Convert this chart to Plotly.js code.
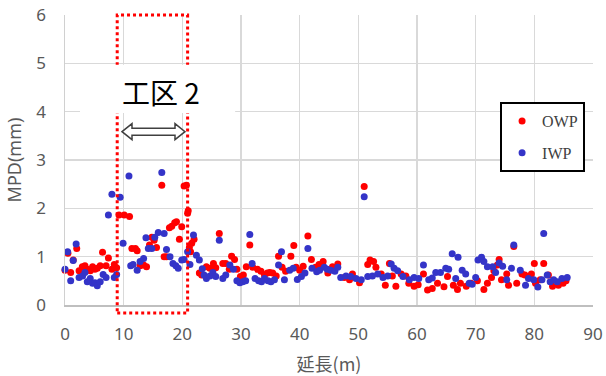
<!DOCTYPE html>
<html><head><meta charset="utf-8">
<script src="https://cdn.plot.ly/plotly-3.0.1.min.js"></script>
<style>html,body{margin:0;padding:0;background:#fff}#chart{width:606px;height:376px}</style>
</head><body><div id="chart"></div>
<script>
// OWP (red) series
const owpX = [0.0,0.5,0.97,1.4,2.0,2.4,2.95,3.4,3.8,4.3,4.7,5.1,5.5,6.0,6.4,7.0,7.4,8.0,8.4,8.8,9.2,10.1,11.0,11.4,12.0,12.3,12.8,13.4,13.9,14.4,14.8,15.2,15.6,16.5,16.9,17.3,17.8,18.2,18.7,19.0,19.5,19.9,20.3,20.7,20.9,21.0,21.2,21.4,21.6,22.0,22.9,23.3,24.1,24.7,25.3,25.7,26.3,26.9,27.4,28.0,28.4,28.9,29.3,29.9,30.4,30.9,31.5,32.0,32.8,33.4,34.0,34.5,34.9,35.4,36.0,36.4,37.0,37.6,38.5,39.0,39.4,40.0,40.6,41.4,42.0,42.7,43.3,44.0,44.8,45.6,46.5,47.6,48.5,49.0,50.2,51.0,51.6,52.0,52.6,53.0,53.9,54.6,55.3,55.8,56.4,57.3,58.1,58.6,59.5,60.2,61.1,61.8,62.6,63.5,64.6,65.2,66.2,66.9,67.4,68.4,69.2,70.3,71.4,72.0,72.7,73.1,73.7,74.0,74.4,75.3,75.6,76.5,77.0,77.9,78.4,79.5,80.0,80.2,81.0,81.6,82.4,83.1,84.1,84.9,85.4];
const owpY = [0.72,1.07,0.67,0.93,1.17,0.71,0.79,0.81,0.74,0.71,0.79,0.74,0.76,0.81,1.09,0.81,0.97,0.74,0.84,0.77,1.86,1.86,1.83,1.17,1.17,1.12,0.81,0.83,0.79,1.24,1.40,1.34,1.19,2.48,1.00,1.00,1.60,1.63,1.70,1.72,1.36,1.62,2.46,2.48,1.90,1.95,1.19,1.10,1.28,1.36,0.66,0.62,0.79,0.76,0.86,0.77,1.48,0.86,0.86,0.74,1.01,0.94,0.74,0.59,0.62,0.79,1.24,0.78,0.74,0.70,0.62,0.66,0.67,0.66,0.60,1.01,0.78,0.70,1.01,1.23,0.78,0.72,0.80,1.43,0.94,0.78,0.84,0.90,0.66,0.79,0.85,0.57,0.52,0.64,0.46,2.45,0.84,0.93,0.90,0.78,0.64,0.41,0.86,0.60,0.39,0.64,0.60,0.45,0.39,0.42,0.64,0.31,0.34,0.45,0.38,0.59,0.41,0.32,0.45,0.39,0.45,0.50,0.32,0.45,0.57,0.71,0.83,0.94,0.52,0.64,0.41,1.21,0.45,0.64,0.62,0.64,0.86,0.45,0.52,0.86,0.62,0.39,0.41,0.45,0.50];
// IWP (blue) series
const iwpX = [0.0,0.45,0.97,1.4,1.9,2.4,3.0,3.4,3.8,4.3,4.7,5.1,5.5,6.0,6.5,7.0,7.4,8.0,8.4,8.8,9.4,9.9,10.9,11.2,11.6,12.3,12.8,13.4,13.8,14.2,14.8,15.3,15.9,16.5,16.9,17.3,17.9,18.4,18.9,19.3,19.9,20.3,20.9,21.3,21.9,22.4,22.9,23.4,23.7,24.1,24.7,25.2,25.7,26.3,26.9,27.4,28.1,28.7,29.3,29.8,30.3,30.8,31.5,31.9,32.4,33.0,33.5,34.0,34.6,35.1,35.7,36.4,36.9,37.4,38.3,38.9,39.6,40.3,40.9,41.4,42.1,42.9,43.4,44.2,44.7,45.3,46.0,46.5,47.0,47.9,48.7,49.6,50.5,51.0,51.6,52.4,53.3,54.2,55.0,55.6,56.1,56.7,57.6,58.7,59.5,60.3,61.1,62.0,62.6,63.2,64.0,64.9,65.4,66.0,66.6,67.0,67.7,68.3,68.9,69.4,70.0,70.4,71.0,71.4,72.0,72.9,73.4,74.0,74.6,75.3,76.1,76.5,77.6,78.5,79.0,79.9,80.6,81.3,81.6,82.2,82.7,83.3,83.9,84.7,85.6];
const iwpY = [0.74,1.10,0.50,0.92,1.26,0.57,0.60,0.67,0.48,0.55,0.45,0.46,0.40,0.48,0.63,0.57,1.86,2.29,0.57,0.63,2.23,1.28,2.67,0.81,0.84,0.72,0.90,0.96,1.39,1.17,1.17,1.40,1.50,2.74,1.48,1.15,1.00,0.86,0.81,0.76,0.93,0.94,1.10,0.84,1.45,1.03,0.93,0.75,0.62,0.55,0.60,0.67,0.59,1.34,0.55,0.62,0.83,0.74,0.50,0.46,0.48,0.50,1.46,0.86,0.55,0.50,0.48,0.55,0.50,0.48,0.52,0.83,1.10,0.52,0.72,0.76,0.53,0.59,0.66,1.17,0.76,0.69,0.72,0.78,0.74,0.72,0.70,0.78,0.57,0.60,0.59,0.55,0.52,2.24,0.59,0.60,0.64,0.57,0.60,0.85,0.76,0.71,0.59,0.52,0.57,0.55,0.83,0.52,0.56,0.67,0.67,0.76,0.74,1.06,0.55,0.99,0.72,0.64,0.45,0.43,0.57,0.93,0.99,0.90,0.79,0.79,0.67,0.87,0.80,0.52,0.76,1.24,0.72,0.41,0.55,0.52,0.37,0.52,1.48,0.62,0.48,0.52,0.48,0.55,0.57];
const xTicks = [0,10,20,30,40,50,60,70,80,90];
const yTicks = [0,1,2,3,4,5,6];
const seriesNames = ['OWP','IWP'];
const sectionLabel = '工区 2';
const xTitle = '延長(m)';
const yTitle = 'MPD(mm)';

const traces = [
  {x: owpX, y: owpY, name: seriesNames[0], type: 'scatter', mode: 'markers', legendgroup: 'a',
   marker: {color: '#ff0000', size: 7}, cliponaxis: false},
  {x: iwpX, y: iwpY, name: seriesNames[1], type: 'scatter', mode: 'markers', legendgroup: 'b',
   marker: {color: '#3434c8', size: 7}, cliponaxis: false}
];

const layout = {
  width: 606, height: 376,
  margin: {l: 65, r: 13, t: 15, b: 71},
  paper_bgcolor: '#ffffff', plot_bgcolor: '#ffffff',
  showlegend: true,
  legend: {x: 0.824, y: 0.70, xanchor: 'left', yanchor: 'top',
    bordercolor: '#000000', borderwidth: 2, bgcolor: '#ffffff',
    traceorder: 'grouped', tracegroupgap: 8,
    font: {family: 'Liberation Serif, serif', size: 16, color: '#404040'}},
  xaxis: {range: [0, 90], tickvals: xTicks, ticktext: xTicks.map(String),
    showgrid: true, gridcolor: '#d9d9d9', gridwidth: 1.3, zeroline: false,
    showline: true, linecolor: '#bfbfbf', linewidth: 2, ticks: '',
    ticklabelstandoff: 13,
    tickfont: {family: 'Noto Sans, sans-serif', size: 17, color: '#595959'},
    title: {text: xTitle, font: {family: 'Noto Sans CJK JP, sans-serif', size: 18, color: '#595959'}, standoff: 14}},
  yaxis: {range: [0, 6], tickvals: yTicks, ticktext: yTicks.map(String),
    showgrid: true, gridcolor: '#d9d9d9', gridwidth: 1.3, zeroline: false,
    showline: true, linecolor: '#d0d0d0', linewidth: 1.5, ticks: '',
    ticklabelstandoff: 14,
    tickfont: {family: 'Noto Sans, sans-serif', size: 17, color: '#595959'},
    title: {text: yTitle, font: {family: 'Noto Sans, sans-serif', size: 18, color: '#595959'}, standoff: 10}},
  shapes: [
    {type: 'rect', xref: 'x', yref: 'paper', x0: 8.9, x1: 20.9, y0: -0.0276, y1: 1.0,
     line: {color: '#ff0000', width: 3, dash: 'dot'}, fillcolor: 'rgba(0,0,0,0)', layer: 'above'},
    {type: 'rect', xref: 'x', yref: 'y', x0: 2.56, x1: 29.0, y0: 3.97, y1: 4.97,
     line: {width: 0}, fillcolor: '#ffffff', layer: 'above'},
    {type: 'path', xref: 'x', yref: 'y',
     path: 'M 9.72,3.586 L 11.42,3.752 L 11.42,3.658 L 18.75,3.658 L 18.75,3.752 L 20.45,3.586 L 18.75,3.42 L 18.75,3.514 L 11.42,3.514 L 11.42,3.42 Z',
     fillcolor: '#ffffff', line: {color: '#404040', width: 1.5}, layer: 'above'}
  ],
  annotations: [
    {x: 16.36, y: 4.41, xref: 'x', yref: 'y', text: sectionLabel, showarrow: false,
     font: {family: 'Noto Sans CJK JP, sans-serif', size: 28, color: '#000000'}}
  ]
};

Plotly.newPlot('chart', traces, layout, {displayModeBar: false, staticPlot: true});
</script>
</body></html>
